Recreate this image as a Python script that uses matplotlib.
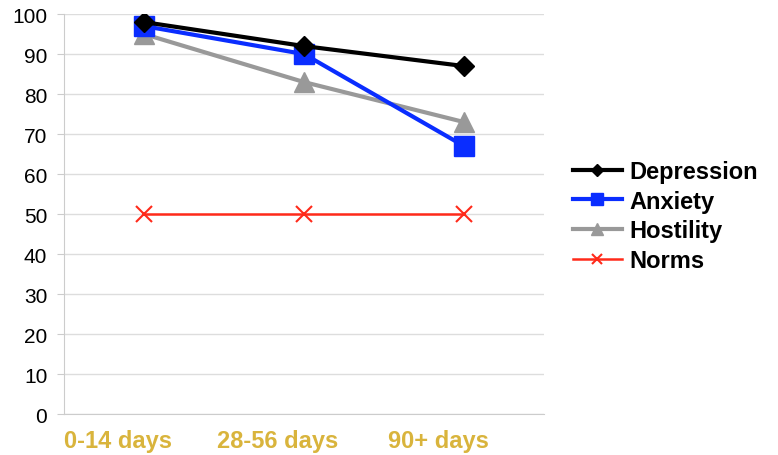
import matplotlib.pyplot as plt
from matplotlib.transforms import ScaledTranslation

plt.rcParams['font.family'] = ['Liberation Sans', 'DejaVu Sans']

periods = ["0-14 days", "28-56 days", "90+ days"]
depression = [98, 92, 87]
anxiety = [97, 90, 67]
hostility = [95, 83, 73]
norms = [50, 50, 50]

fig = plt.figure(figsize=(7.78, 4.56), dpi=100)
ax = fig.add_axes([0.0823, 0.0899, 0.617, 0.877])

x = range(len(periods))
ax.plot(x, depression, color="black", marker="D", markersize=10, lw=3, label="Depression", zorder=5)
ax.plot(x, anxiety, color="#0a2dff", marker="s", markersize=14, lw=3, label="Anxiety", zorder=4)
ax.plot(x, hostility, color="#999999", marker="^", markersize=14, lw=3, label="Hostility", zorder=3)
ax.plot(x, norms, color="#ff2a1a", marker="x", markersize=12, mew=1.5, lw=1.8, label="Norms", zorder=2)

ax.set_xlim(-0.5, 2.5)
ax.set_ylim(0, 100)
ax.set_yticks(range(0, 101, 10))
ax.set_xticks(list(x))
ax.set_xticklabels(periods, color="#d9b43c", fontsize=17, fontweight="bold")
ax.tick_params(axis="y", labelsize=15, length=5, color="#cccccc", pad=7)
ax.tick_params(axis="x", length=0, pad=11)
# labels in the original sit a bit left of the points
for lbl in ax.get_xticklabels():
    lbl.set_transform(lbl.get_transform() + ScaledTranslation(-0.26, 0, fig.dpi_scale_trans))
ax.grid(axis="y", color="#dddddd", lw=1)
ax.set_axisbelow(True)
for side in ["top", "right"]:
    ax.spines[side].set_visible(False)
for side in ["left", "bottom"]:
    ax.spines[side].set_color("#cccccc")

leg = ax.legend(loc="center left", bbox_to_anchor=(1.04, 0.495), frameon=False,
                prop={"size": 17, "weight": "bold"}, handlelength=2.1,
                handletextpad=0.3, labelspacing=0.28, borderaxespad=0,
                markerscale=0.65)

fig.savefig("out.png", dpi=100)
